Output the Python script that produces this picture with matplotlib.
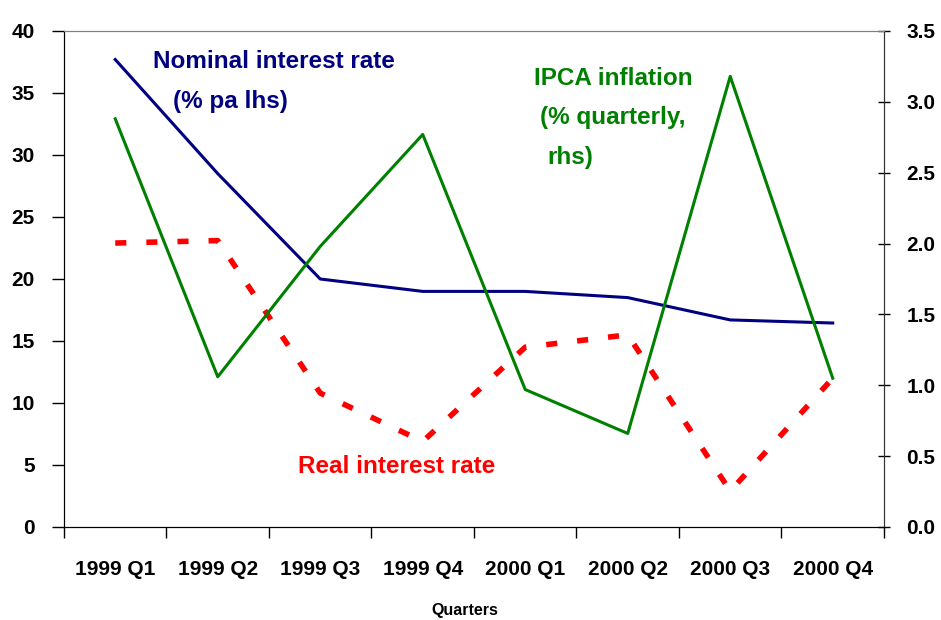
import matplotlib.pyplot as plt
import numpy as np

plt.rcParams['font.family'] = ['Liberation Sans', 'DejaVu Sans']
plt.rcParams['font.weight'] = 'bold'

quarters = ["1999 Q1", "1999 Q2", "1999 Q3", "1999 Q4",
            "2000 Q1", "2000 Q2", "2000 Q3", "2000 Q4"]
nominal = [37.7, 28.5, 20.0, 19.0, 19.0, 18.5, 16.7, 16.45]
real = [22.9, 23.1, 10.8, 6.9, 14.5, 15.5, 2.9, 12.0]
ipca = [2.88, 1.06, 1.98, 2.77, 0.97, 0.66, 3.18, 1.05]

x = np.arange(len(quarters))

fig = plt.figure(figsize=(9.41, 6.20), dpi=100)
ax = fig.add_axes([0.068, 0.15, 0.8714, 0.80])
ax2 = ax.twinx()

ax.plot(x, nominal, color='#000080', lw=2.2, zorder=3)
ax.plot(x, real, color='#FF0000', lw=4, dashes=(2, 3.6), dash_capstyle='butt', zorder=2)
ax2.plot(x, ipca, color='#008000', lw=2.2)

ax.set_xlim(-0.5, 7.5)
ax.set_ylim(0, 40)
ax2.set_ylim(0, 3.5)
ax.set_yticks(np.arange(0, 41, 5))
ax2.set_yticks(np.arange(0, 3.51, 0.5))
ax2.set_yticklabels([f"{v:.1f}" for v in np.arange(0, 3.51, 0.5)])

ax.set_xticks(x)
ax.set_xticklabels(quarters)
ax.set_xticks(np.arange(-0.5, 7.6, 1), minor=True)
ax.tick_params(axis='x', which='major', length=0, pad=24, labelsize=15)
ax.tick_params(axis='x', which='minor', length=8, width=1, direction='out')
ax.tick_params(axis='y', length=9, width=1, direction='out', pad=12, labelsize=15)
ax2.tick_params(axis='y', length=8, width=1, direction='inout', pad=12, labelsize=15)

for a in (ax, ax2):
    a.spines['top'].set_color('#808080')
    a.spines['left'].set_color('black')
    a.spines['right'].set_color('#333333')
    a.spines['bottom'].set_color('black')

fig.text(465 / 941, 1 - 611 / 620, "Quarters", fontsize=11.5, fontweight='bold',
         ha='center', va='center')

ax.text(1.55, 37.5, "Nominal interest rate", color='#000080', fontsize=17.5,
        ha='center', va='center', fontweight='bold')
ax.text(1.12, 34.3, "(% pa lhs)", color='#000080', fontsize=17.5,
        ha='center', va='center', fontweight='bold')
ax.text(4.09, 36.2, "IPCA inflation", color='#008000', fontsize=17.5,
        ha='left', va='center', fontweight='bold')
ax.text(4.14, 33.0, "(% quarterly,", color='#008000', fontsize=17.5,
        ha='left', va='center', fontweight='bold')
ax.text(4.22, 29.8, "rhs)", color='#008000', fontsize=17.5,
        ha='left', va='center', fontweight='bold')
ax.text(2.75, 4.9, "Real interest rate", color='#FF0000', fontsize=17.5,
        ha='center', va='center', fontweight='bold')

fig.savefig("out.png", dpi=100)
